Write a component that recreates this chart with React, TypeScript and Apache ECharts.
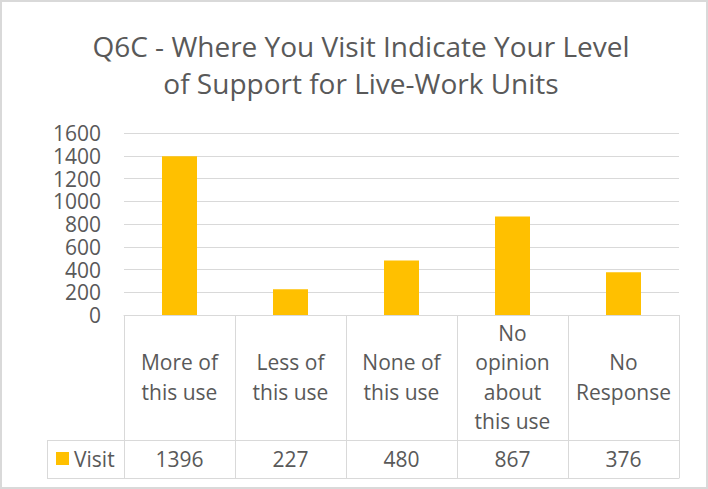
import React, { useEffect, useRef } from "react";
import * as echarts from "echarts";

const categories = ["More of\nthis use", "Less of\nthis use", "None of\nthis use", "No\nopinion\nabout\nthis use", "No\nResponse"];
const visitValues = [1396, 227, 480, 867, 376];
const seriesName = "Visit";
const yTicks = { min: 0, max: 1600, interval: 200 };
const titleText = "Q6C - Where You Visit Indicate Your Level\nof Support for Live-Work Units";

const FONT = "'Open Sans', sans-serif";
const TEXT = "#595959";
const LINE = "#D9D9D9";

export default function App() {
  const ref = useRef<HTMLDivElement>(null);
  useEffect(() => {
    document.body.style.margin = "0";
    const chart = echarts.init(ref.current!, null, { renderer: "svg" });
    chart.setOption({
      animation: false,
      textStyle: { fontFamily: FONT },
      title: {
        text: titleText,
        left: 361,
        top: 27,
        padding: 0,
        textAlign: "center",
        textStyle: { fontFamily: FONT, fontSize: 28, fontWeight: "normal", color: TEXT, lineHeight: 37 },
      },
      legend: {
        data: [seriesName],
        left: 56,
        top: 448,
        padding: 0,
        icon: "rect",
        itemWidth: 13,
        itemHeight: 13,
        itemGap: 0,
        textStyle: { fontFamily: FONT, fontSize: 21, color: TEXT },
        selectedMode: false,
      },
      grid: { left: 124, right: 29, top: 133, bottom: 174, containLabel: false },
      yAxis: {
        type: "value",
        min: yTicks.min,
        max: yTicks.max,
        interval: yTicks.interval,
        axisLine: { show: false },
        axisTick: { show: false },
        axisLabel: { fontFamily: FONT, fontSize: 21, lineHeight: 20, color: TEXT, margin: 23, formatter: (v: number) => String(v) },
        splitLine: { lineStyle: { color: LINE, width: 1 } },
      },
      xAxis: [
        {
          type: "category",
          data: categories,
          position: "bottom",
          axisLine: { lineStyle: { color: LINE, width: 1 } },
          axisTick: { show: true, length: 163, lineStyle: { color: LINE, width: 1 } },
          axisLabel: {
            fontFamily: FONT,
            fontSize: 21,
            color: TEXT,
            lineHeight: 29.5,
            margin: 62,
            verticalAlign: "middle",
            interval: 0,
          },
        },
        {
          type: "category",
          data: visitValues.map(String),
          position: "bottom",
          offset: 125,
          axisLine: { lineStyle: { color: LINE, width: 1 } },
          axisTick: { show: false },
          axisLabel: { fontFamily: FONT, fontSize: 21, color: TEXT, margin: 19, verticalAlign: "middle", interval: 0 },
        },
        {
          type: "category",
          data: categories,
          position: "bottom",
          offset: 163,
          axisLine: { lineStyle: { color: LINE, width: 1 } },
          axisTick: { show: false },
          axisLabel: { show: false },
        },
      ],
      series: [
        {
          name: seriesName,
          type: "bar",
          data: visitValues,
          barWidth: 35,
          itemStyle: { color: "#FFC000" },
          xAxisIndex: 0,
        },
      ],
      graphic: [
        { type: "rect", shape: { x: 1, y: 1, width: 706, height: 487 }, style: { fill: "none", stroke: LINE, lineWidth: 2 }, silent: true },
        { type: "line", shape: { x1: 47, y1: 440.5, x2: 124, y2: 440.5 }, style: { stroke: LINE, lineWidth: 1 }, silent: true },
        { type: "line", shape: { x1: 47, y1: 478.5, x2: 124, y2: 478.5 }, style: { stroke: LINE, lineWidth: 1 }, silent: true },
        { type: "line", shape: { x1: 47.5, y1: 440, x2: 47.5, y2: 479 }, style: { stroke: LINE, lineWidth: 1 }, silent: true },
      ],
    });
    return () => chart.dispose();
  }, []);
  return <div ref={ref} style={{ width: 708, height: 489 }} />;
}
